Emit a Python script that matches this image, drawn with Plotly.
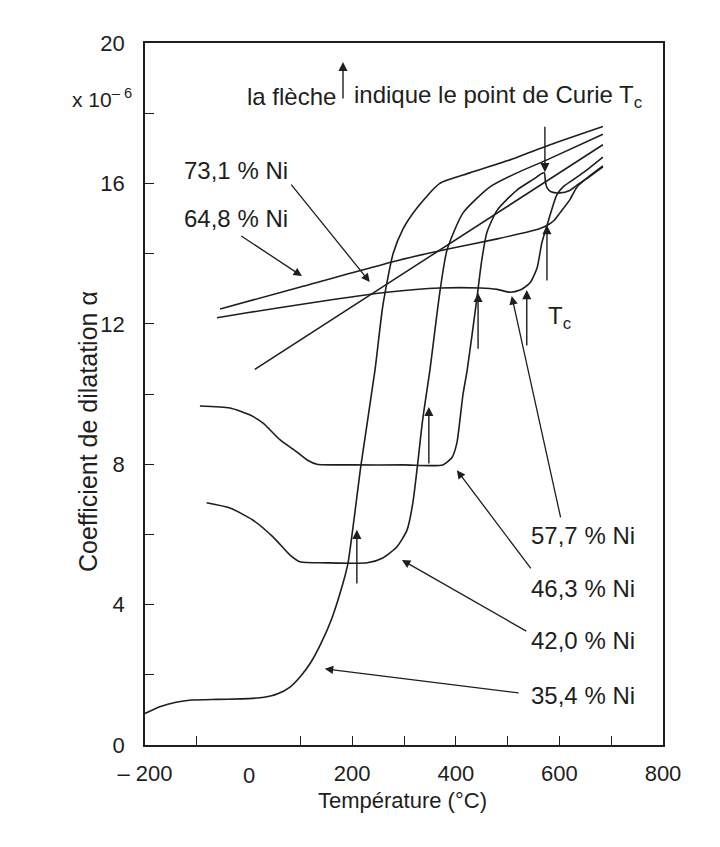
import plotly.graph_objects as go

# ---------------- data ----------------
ni354_x = [-200, -170, -140, -110, -60, 0, 30, 55, 80, 100, 120, 140, 161, 182, 192, 217, 244, 259, 279, 298, 325, 369, 427, 505, 582, 684]
ni354_y = [0.9, 1.1, 1.22, 1.28, 1.3, 1.32, 1.36, 1.45, 1.65, 1.95, 2.35, 2.9, 3.62, 4.6, 5.19, 7.98, 10.68, 12.5, 14.0, 14.7, 15.3, 16.0, 16.3, 16.67, 17.1, 17.62]

ni420_x = [-81, -36, 8, 47, 80, 99, 150, 229, 259, 286, 306, 317, 325, 336, 350, 369, 383, 414, 466, 518, 576, 684]
ni420_y = [6.9, 6.75, 6.41, 5.93, 5.41, 5.22, 5.19, 5.19, 5.33, 5.64, 6.13, 6.89, 7.83, 9.26, 10.68, 12.88, 14.1, 15.16, 15.9, 16.3, 16.67, 17.4]

ni463_x = [-94, -36, 3, 28, 61, 93, 113, 132, 200, 300, 375, 393, 402, 408, 414, 422, 441, 450, 460, 480, 518, 550, 566, 571, 573, 576, 584, 601, 620, 634, 659, 684]
ni463_y = [9.66, 9.6, 9.4, 9.17, 8.69, 8.35, 8.12, 8.0, 7.98, 7.98, 7.98, 8.2, 8.6, 9.26, 10.0, 10.68, 12.76, 13.8, 14.6, 15.24, 15.81, 16.12, 16.28, 16.3, 16.05, 15.88, 15.76, 15.73, 15.8, 15.95, 16.2, 16.47]

ni577_x = [-61, 0, 100, 157, 267, 369, 447, 480, 505, 524, 543, 557, 566, 576, 595, 607, 626, 650, 684]
ni577_y = [12.17, 12.32, 12.55, 12.68, 12.9, 13.02, 13.02, 12.98, 12.9, 12.96, 13.16, 13.6, 14.3, 14.8, 15.67, 15.9, 16.1, 16.35, 16.75]

ni648_x = [-55, 100, 292, 385, 480, 560, 576, 590, 601, 620, 634, 659, 684]
ni648_y = [12.42, 13.05, 13.82, 14.13, 14.42, 14.7, 14.8, 14.95, 15.16, 15.53, 15.9, 16.22, 16.5]

ni731_x = [12, 350, 684]
ni731_y = [10.7, 13.92, 17.1]

curves = [
    ("35,4 % Ni", ni354_x, ni354_y),
    ("42,0 % Ni", ni420_x, ni420_y),
    ("46,3 % Ni", ni463_x, ni463_y),
    ("57,7 % Ni", ni577_x, ni577_y),
    ("64,8 % Ni", ni648_x, ni648_y),
    ("73,1 % Ni", ni731_x, ni731_y),
]

# Curie-point arrows (x, tail y, tip y)
curie_x = [209, 348, 443, 537, 576, 572]
curie_tail = [4.56, 7.98, 11.25, 11.34, 13.19, 17.66]
curie_tip = [6.13, 9.63, 12.88, 12.96, 14.81, 16.32]

# curve labels: text position and pointer (tail -> tip)
label_text = ["73,1 % Ni", "64,8 % Ni", "57,7 % Ni", "46,3 % Ni", "42,0 % Ni", "35,4 % Ni"]
label_x = [-24, -24, 646, 646, 646, 646]
label_y = [16.38, 15.0, 5.98, 4.47, 2.99, 1.42]
ptr_tail_x = [80, -17, 603, 547, 539, 524]
ptr_tail_y = [16.01, 14.53, 6.44, 4.99, 3.22, 1.48]
ptr_tip_x = [234, 103, 508, 402, 296, 147]
ptr_tip_y = [13.19, 13.36, 12.79, 7.83, 5.27, 2.17]

x_tickvals = [-200, -100, 100, 200, 300, 400, 500, 600, 700, 800]
x_ticktext = ["– 200", "", "", "200", "", "400", "", "600", "", "800"]
y_tickvals = [0, 2, 4, 6, 8, 10, 12, 14, 16, 18, 20]
y_ticktext = ["0", "", "4", "", "8", "", "12", "", "16", "", "20"]

# ---------------- figure ----------------
INK = "#1e1e1e"
FONT = "Liberation Sans, Arial, sans-serif"
PAGE_OFF = 8                      # default body margin of the html page
PLOT_L, PLOT_R, PLOT_T, PLOT_B = 145, 663, 43, 745   # wanted plot box, page pixels
W, H = 720 - PAGE_OFF, 847 - PAGE_OFF
L = PLOT_L - PAGE_OFF
T = PLOT_T - PAGE_OFF
R = W - (PLOT_R - PAGE_OFF)
B = H - (PLOT_B - PAGE_OFF)
PW, PH = PLOT_R - PLOT_L, PLOT_B - PLOT_T


def px(xp):
    return (xp - PLOT_L) / PW


def py(yp):
    return (PLOT_B - yp) / PH


fig = go.Figure()
for name, xs, ys in curves:
    fig.add_trace(go.Scatter(
        x=xs, y=ys, mode="lines", name=name,
        line=dict(color=INK, width=1.6, shape="spline", smoothing=0.6),
        showlegend=False, hoverinfo="skip"))

ann = []
for cx, ct, ch in zip(curie_x, curie_tail, curie_tip):
    ann.append(dict(x=cx, y=ch, ax=cx, ay=ct, xref="x", yref="y", axref="x", ayref="y",
                    text="", showarrow=True, arrowhead=2, arrowsize=1.3, arrowwidth=1.4,
                    arrowcolor=INK, standoff=0))

for t, lx, ly in zip(label_text, label_x, label_y):
    ann.append(dict(x=lx, y=ly, xref="x", yref="y", text=t, showarrow=False,
                    xanchor="center", yanchor="middle",
                    font=dict(family=FONT, size=24, color=INK)))

for tx, ty, hx, hy in zip(ptr_tail_x, ptr_tail_y, ptr_tip_x, ptr_tip_y):
    ann.append(dict(x=hx, y=hy, ax=tx, ay=ty, xref="x", yref="y", axref="x", ayref="y",
                    text="", showarrow=True, arrowhead=2, arrowsize=1.3, arrowwidth=1.3,
                    arrowcolor=INK, standoff=0))

# T_c label near the right-hand arrows
ann.append(dict(x=601, y=12.17, xref="x", yref="y", text="T<sub>c</sub>", showarrow=False,
                xanchor="center", yanchor="middle",
                font=dict(family=FONT, size=24, color=INK)))

# zero label on x axis (no tick there in the original)
ann.append(dict(x=0, y=py(775), xref="x", yref="paper", text="0", showarrow=False,
                xanchor="center", yanchor="middle",
                font=dict(family=FONT, size=22, color=INK)))

# header note
ann.append(dict(x=px(338), y=py(96), xref="paper", yref="paper", text="la flèche",
                showarrow=False, xanchor="right", yanchor="middle",
                font=dict(family=FONT, size=24, color=INK)))
ann.append(dict(x=px(343), y=py(62), ax=0, ay=38, xref="paper", yref="paper", text="",
                showarrow=True, arrowhead=2, arrowsize=1.3, arrowwidth=1.4, arrowcolor=INK,
                standoff=0))
ann.append(dict(x=px(352), y=py(96), xref="paper", yref="paper",
                text="indique le point de Curie T<sub>c</sub>",
                showarrow=False, xanchor="left", yanchor="middle",
                font=dict(family=FONT, size=24, color=INK)))

# unit multiplier
ann.append(dict(x=px(134), y=py(98), xref="paper", yref="paper", text="x 10<sup>– 6</sup>",
                showarrow=False, xanchor="right", yanchor="middle",
                font=dict(family=FONT, size=21, color=INK)))

# axis titles
ann.append(dict(x=px(402), y=py(800), xref="paper", yref="paper", text="Température (°C)",
                showarrow=False, xanchor="center", yanchor="middle",
                font=dict(family=FONT, size=22, color=INK)))
ann.append(dict(x=px(88), y=py(432), xref="paper", yref="paper",
                text="Coefficient de dilatation α", textangle=-90,
                showarrow=False, xanchor="center", yanchor="middle",
                font=dict(family=FONT, size=25, color=INK)))

axis_common = dict(showline=True, mirror=True, linecolor=INK, linewidth=1.6,
                   ticks="inside", ticklen=9, tickwidth=1.4, tickcolor=INK,
                   showgrid=False, zeroline=False,
                   tickfont=dict(family=FONT, size=22, color=INK))

fig.update_layout(
    width=W, height=H,
    margin=dict(l=L, r=R, t=T, b=B),
    paper_bgcolor="white", plot_bgcolor="white",
    xaxis=dict(range=[-200, 800], tickmode="array", tickvals=x_tickvals, ticktext=x_ticktext,
               ticklabelstandoff=8, **axis_common),
    yaxis=dict(range=[0, 20], tickmode="array", tickvals=y_tickvals, ticktext=y_ticktext,
               ticklabelstandoff=14, **axis_common),
    annotations=ann,
)

fig.write_html("out.html")
